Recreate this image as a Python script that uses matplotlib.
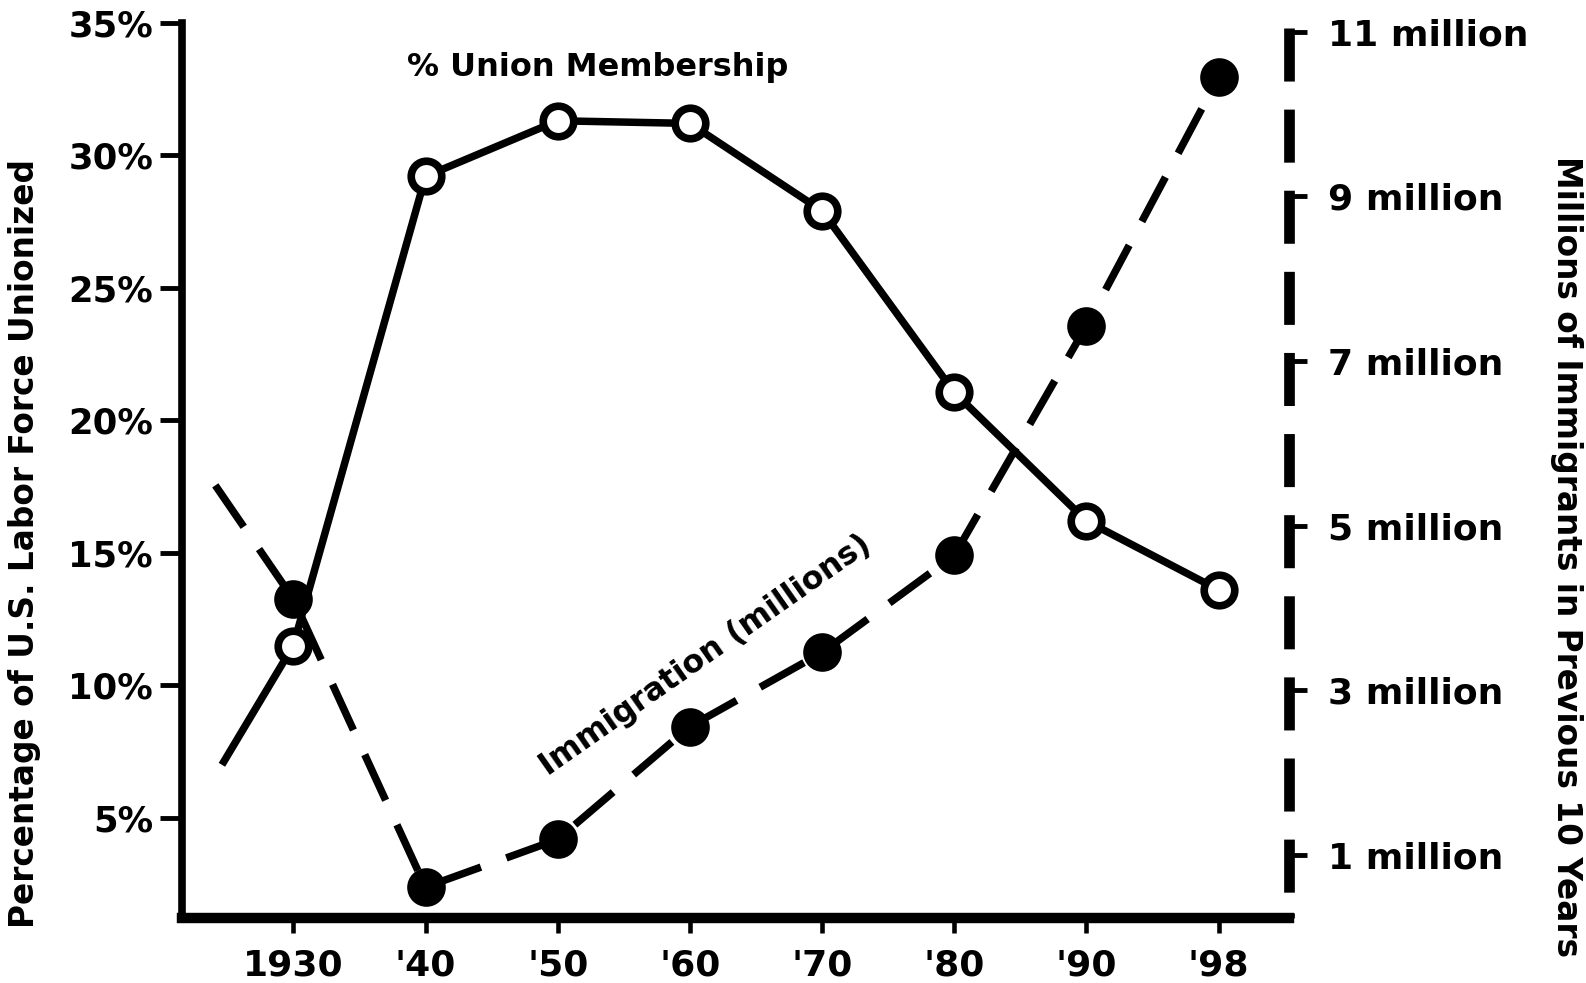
import matplotlib
matplotlib.use("Agg")
import matplotlib.pyplot as plt
import matplotlib.transforms as mtransforms

# ---- data ----
year_labels = ['1930', "'40", "'50", "'60", "'70", "'80", "'90", "'98"]
union_x = [-0.54, 0, 1, 2, 3, 4, 5, 6, 7]
union_pct = [7.0, 11.5, 29.2, 31.3, 31.2, 27.9, 21.05, 16.2, 13.6]
imm_x = [-0.59, 0, 1, 2, 3, 4, 5, 6, 7]
imm_millions = [5.49, 4.11, 0.61, 1.19, 2.56, 3.46, 4.64, 7.43, 10.45]
pct_ticks = [5, 10, 15, 20, 25, 30, 35]
mil_ticks = [1, 3, 5, 7, 9, 11]

plt.rcParams['font.family'] = ['DejaVu Sans']
plt.rcParams['font.weight'] = 'bold'

W, H = 1586, 983
fig = plt.figure(figsize=(W / 100, H / 100), dpi=100)
ax = fig.add_axes([182 / W, 1 - 918 / H, (1289 - 182) / W, (918 - 22.7) / H])
ax2 = ax.twinx()

ax.set_xlim(-0.842, 7.532)
ax.set_ylim(1.22, 35)
ax2.set_ylim(0.235, 11.11)

# immigration (dashed, filled dots)
lw = 5.4
ax2.plot(imm_x, imm_millions, color='black', lw=lw,
         linestyle=(0, (6.7, 3.6)), dash_capstyle='butt', zorder=2)
ax2.plot(imm_x[1:], imm_millions[1:], linestyle='none', marker='o',
         ms=22, mfc='black', mec='black', mew=5.8, zorder=3)

# union membership (solid, open dots)
ax.plot(union_x, union_pct, color='black', lw=lw, solid_capstyle='butt', zorder=2)
ax.plot(union_x[1:], union_pct[1:], linestyle='none', marker='o',
        ms=22, mfc='white', mec='black', mew=5.5, zorder=3)

ax.set_zorder(ax2.get_zorder() + 1)
ax.patch.set_visible(False)

# spines
for s in ['top', 'right']:
    ax.spines[s].set_visible(False)
for s in ['top', 'right', 'left', 'bottom']:
    ax2.spines[s].set_visible(False)
ax.spines['left'].set_linewidth(5.5)
ax.spines['bottom'].set_linewidth(7.5)
ax.spines['bottom'].set_capstyle('projecting')

# dashed right axis line
trans = mtransforms.blended_transform_factory(ax2.transAxes, ax2.transData)
rlw = 7.7
ax2.plot([1, 1], [11.05, 0.235], transform=trans, color='black', lw=rlw,
         linestyle=(0, (38.2 / rlw, 20.2 / rlw)), dash_capstyle='butt',
         clip_on=False, zorder=1)
ax2.plot([1, 1], [0.30, 0.235], transform=trans, color='black', lw=rlw,
         solid_capstyle='butt', clip_on=False, zorder=1)

# ticks
ax.set_xticks(range(len(year_labels)))
ax.set_xticklabels(year_labels, fontsize=26, fontweight='bold')
ax.tick_params(axis='x', direction='out', length=11, width=3.3, pad=11)

ax.set_yticks(pct_ticks)
ax.set_yticklabels([f'{v}%' for v in pct_ticks], fontsize=25.5, fontweight='bold')
ax.tick_params(axis='y', direction='out', length=15.8, width=3.5, pad=5)

ax2.set_yticks(mil_ticks)
ax2.set_yticklabels([f'{v} million' for v in mil_ticks], fontsize=26, fontweight='bold')
ax2.tick_params(axis='y', direction='out', length=13, width=3.5, pad=15)

# labels
fig.text(25 / W, 1 - 543 / H, 'Percentage of U.S. Labor Force Unionized',
         rotation=90, ha='center', va='center', fontsize=23.6, fontweight='bold')
fig.text(1566 / W, 1 - 556 / H, 'Millions of Immigrants in Previous 10 Years',
         rotation=-90, ha='center', va='center', fontsize=23.6, fontweight='bold')

ax.text(2.30, 33.3, '% Union Membership', ha='center', va='center',
        fontsize=23, fontweight='bold')
ax2.text(3.12, 3.42, 'Immigration (millions)', ha='center', va='center',
         rotation=35, rotation_mode='anchor', fontsize=22.8, fontweight='bold')

fig.savefig('out.png', dpi=100, facecolor='white')
